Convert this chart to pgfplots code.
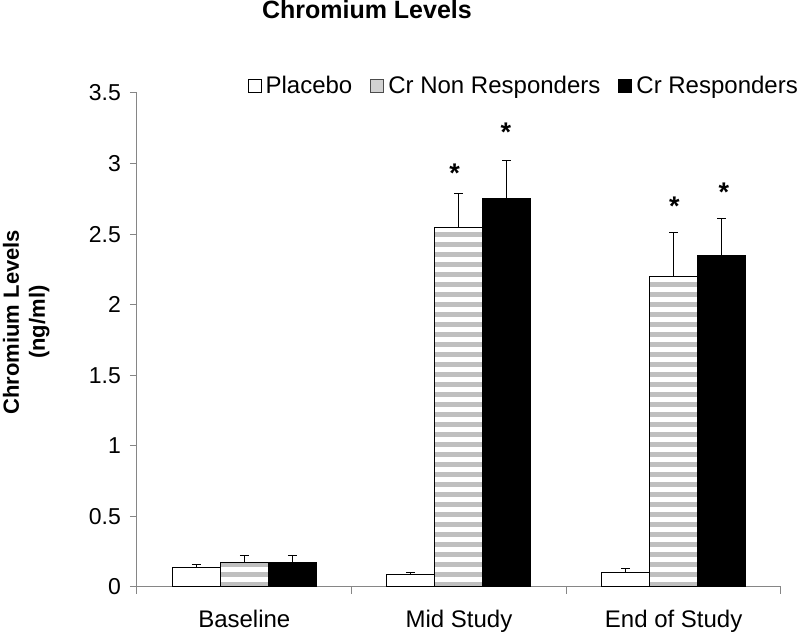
\documentclass[border=0pt]{standalone}
\usepackage{fontspec}
\setmainfont{Liberation Sans}
\usepackage{pgfplots}
\pgfplotsset{compat=1.18}
\usetikzlibrary{patterns.meta}
\definecolor{axisgray}{RGB}{134,134,134}
\definecolor{stripegray}{RGB}{191,191,191}
\begin{document}
\begin{tikzpicture}
\useasboundingbox (-68.5pt,-24pt) rectangle (331.5pt,293.5pt);
\begin{axis}[
  at={(0,0)}, anchor=south west,
  scale only axis, width=322pt, height=247pt,
  xmin=-0.5, xmax=2.5, ymin=0, ymax=3.5,
  axis lines=left,
  axis line style={-, draw=axisgray, line width=0.5pt},
  tick align=outside, major tick length=3.5pt,
  tick style={draw=axisgray, line width=0.5pt},
  ytick={0,0.5,1,1.5,2,2.5,3,3.5},
  yticklabels={0,0.5,1,1.5,2,2.5,3,3.5},
  yticklabel style={font=\fontsize{11.5}{13}\selectfont, xshift=-1pt},
  xtick={-0.5,0.5,1.5,2.5}, xticklabels={},
  extra x ticks={0,1,2},
  extra x tick labels={Baseline,Mid Study,End of Study},
  extra x tick style={major tick length=0pt, tick style={draw=none},
    xticklabel style={font=\fontsize{12}{14}\selectfont, yshift=-8pt}},
  /pgf/number format/assume math mode=true,
  title={Chromium Levels},
  title style={at={(axis description cs:0.357,1.144)}, anchor=center, yshift=0pt, font=\bfseries\fontsize{12.5}{14}\selectfont},
  ylabel={Chromium Levels\\(ng/ml)},
  ylabel style={at={(axis description cs:-0.172,0.536)}, anchor=center, align=center, font=\bfseries\fontsize{11}{13}\selectfont},
  legend columns=3,
  legend style={at={(axis description cs:1.033,1.014)}, anchor=east, draw=none, fill=none, inner sep=0pt,
    font=\fontsize{12}{14}\selectfont,
    /tikz/every even column/.append style={column sep=7pt}},
  legend image code/.code={\draw[#1, line width=0.5pt] (0pt,-3.25pt) rectangle (6.5pt,3.25pt);},
  error bars/error bar style={line width=0.5pt, black},
  error bars/error mark options={rotate=90, mark size=2.25pt, line width=0.5pt, black},
]
\addlegendimage{draw=black, fill=white}
\addlegendimage{draw=black!70, fill=stripegray!70}
\addlegendimage{draw=black, fill=black}
% Placebo (bars placed at category - 0.2236)
\addplot[ybar, bar width=24pt, bar shift=0pt, draw=black, line width=0.5pt, fill=white, forget plot,
  error bars/.cd, y dir=plus, y explicit]
  coordinates {(-0.2236,0.14) +- (0,0.016) (0.7764,0.09) +- (0,0.015) (1.7764,0.10) +- (0,0.03)};
% Cr Non Responders (at category)
\addplot[ybar, bar width=24pt, bar shift=0pt, draw=black, line width=0.5pt,
  pattern={Lines[angle=0, distance=5pt, line width=2.5pt]}, pattern color=stripegray, forget plot,
  error bars/.cd, y dir=plus, y explicit]
  coordinates {(0,0.17) +- (0,0.05) (1,2.55) +- (0,0.24) (2,2.20) +- (0,0.31)};
% Cr Responders (at category + 0.2236)
\addplot[ybar, bar width=24pt, bar shift=0pt, draw=black, line width=0.5pt, fill=black, forget plot,
  error bars/.cd, y dir=plus, y explicit]
  coordinates {(0.2236,0.17) +- (0,0.05) (1.2236,2.75) +- (0,0.27) (2.2236,2.35) +- (0,0.26)};
% significance asterisks
\addplot[draw=none, mark=none, forget plot, nodes near coords, point meta=explicit symbolic,
  nodes near coords style={anchor=center, font=\bfseries\fontsize{13.5}{14}\selectfont}]
  coordinates {(0.98,2.93) [*] (1.219,3.22) [*] (2.003,2.70) [*] (2.234,2.80) [*]};
\legend{Placebo, Cr Non Responders, Cr Responders}
\end{axis}
\end{tikzpicture}
\end{document}
